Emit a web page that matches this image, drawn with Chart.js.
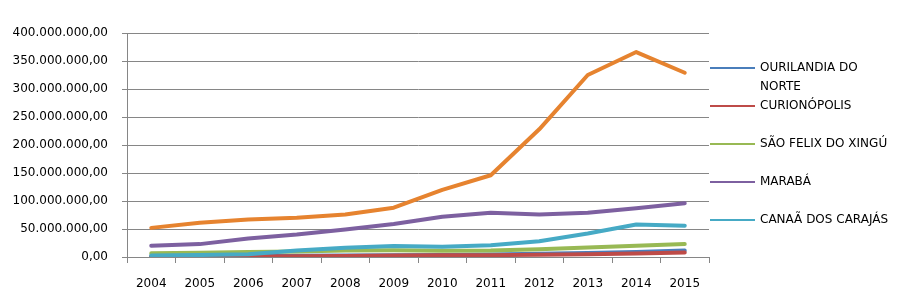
<!DOCTYPE html>
<html>
<head>
<meta charset="utf-8">
<script src="https://cdn.jsdelivr.net/npm/chart.js@4"></script>
<style>
  html, body { margin: 0; padding: 0; background: #fff; }
  canvas { display: block; }
</style>
</head>
<body>
<canvas id="receitaChart" width="914" height="297"></canvas>
<script>
// Values (R$)
const years = ["2004", "2005", "2006", "2007", "2008", "2009", "2010", "2011", "2012", "2013", "2014", "2015"];
const ourilandia = [0.8e6, 1.2e6, 1.6e6, 2.2e6, 2.8e6, 3.2e6, 3.6e6, 4.4e6, 6.0e6, 7.2e6, 9.0e6, 11.5e6];
const curionopolis = [0.5e6, 0.7e6, 1.0e6, 1.5e6, 2.0e6, 2.6e6, 3.0e6, 3.3e6, 4.2e6, 5.0e6, 6.2e6, 8.0e6];
const saoFelix = [6.5e6, 7.5e6, 8.8e6, 9.6e6, 11.8e6, 12.0e6, 11.2e6, 11.5e6, 14.0e6, 16.8e6, 20.0e6, 23.0e6];
const maraba = [20e6, 23e6, 33e6, 40e6, 49e6, 59e6, 72e6, 79e6, 76e6, 79e6, 87e6, 96e6];
const canaa = [2.5e6, 3.5e6, 5.0e6, 11.5e6, 16.5e6, 19.5e6, 18.5e6, 21e6, 28e6, 42e6, 58e6, 56e6];
const parauapebas = [52e6, 61e6, 67e6, 70e6, 76e6, 88e6, 120e6, 146e6, 228e6, 325e6, 366e6, 329e6];

const seriesNames = ["OURILANDIA DO NORTE", "CURIONÓPOLIS", "SÃO FELIX DO XINGÚ", "MARABÁ", "CANAÃ DOS CARAJÁS", "PARAUAPEBAS"];
const seriesData = [ourilandia, curionopolis, saoFelix, maraba, canaa, parauapebas];
const seriesColors = ["#4A7EBB", "#BE4B48", "#98B954", "#7D60A0", "#46AAC5", "#E6832F"];

const gridColor = "#868686";
const font = { family: "DejaVu Sans", size: 12 };

// pt-BR style number: 400.000.000,00
const fmtBR = (v) => {
  const parts = Number(v).toFixed(2).split(".");
  parts[0] = parts[0].replace(/\B(?=(\d{3})+(?!\d))/g, ".");
  return parts[0] + "," + parts[1];
};

// Excel-like legend on the right; only the first five entries fit in the picture
const sideLegend = {
  id: "sideLegend",
  afterDraw(chart) {
    const ctx = chart.ctx;
    const x0 = chart.chartArea.right + 1;
    const lines = [["OURILANDIA DO", "NORTE"], ["CURIONÓPOLIS"], ["SÃO FELIX DO XINGÚ"], ["MARABÁ"], ["CANAÃ DOS CARAJÁS"]];
    ctx.save();
    ctx.font = font.size + "px " + font.family;
    ctx.textBaseline = "middle";
    lines.forEach((txt, i) => {
      const y = 68 + i * 38;
      ctx.strokeStyle = seriesColors[i];
      ctx.lineWidth = 2;
      ctx.beginPath();
      ctx.moveTo(x0, y);
      ctx.lineTo(x0 + 45, y);
      ctx.stroke();
      ctx.fillStyle = "#000";
      txt.forEach((t, j) => ctx.fillText(t, x0 + 50, y + j * 19));
    });
    ctx.restore();
  }
};

const initChart = () => {
  const ctx = document.getElementById("receitaChart").getContext("2d");
  new Chart(ctx, {
    type: "line",
    data: {
      labels: years,
      datasets: seriesData.map((d, i) => ({
        label: seriesNames[i],
        data: d,
        borderColor: seriesColors[i],
        backgroundColor: seriesColors[i],
        borderWidth: 4,
        pointRadius: 0,
        tension: 0,
        borderCapStyle: "round",
        borderJoinStyle: "round",
        order: seriesData.length - 1 - i
      }))
    },
    options: {
      responsive: false,
      animation: false,
      layout: { padding: { top: 33, right: 205, left: 0, bottom: 0 } },
      plugins: {
        legend: { display: false },
        tooltip: { enabled: false }
      },
      scales: {
        x: {
          offset: true,
          grid: { offset: true, drawOnChartArea: false, drawTicks: true, tickLength: 6, color: gridColor },
          border: { color: gridColor },
          ticks: { font: font, color: "#000", padding: 14, maxRotation: 0 },
          afterFit: (s) => { s.height = 40; }
        },
        y: {
          min: 0,
          max: 400e6,
          grid: { color: gridColor, tickLength: 5 },
          border: { color: gridColor },
          ticks: { stepSize: 50e6, font: font, color: "#000", padding: 14, callback: (v) => fmtBR(v) },
          afterFit: (s) => { s.width = 127; }
        }
      }
    },
    plugins: [sideLegend]
  });
};

document.addEventListener("DOMContentLoaded", initChart);
</script>
</body>
</html>
